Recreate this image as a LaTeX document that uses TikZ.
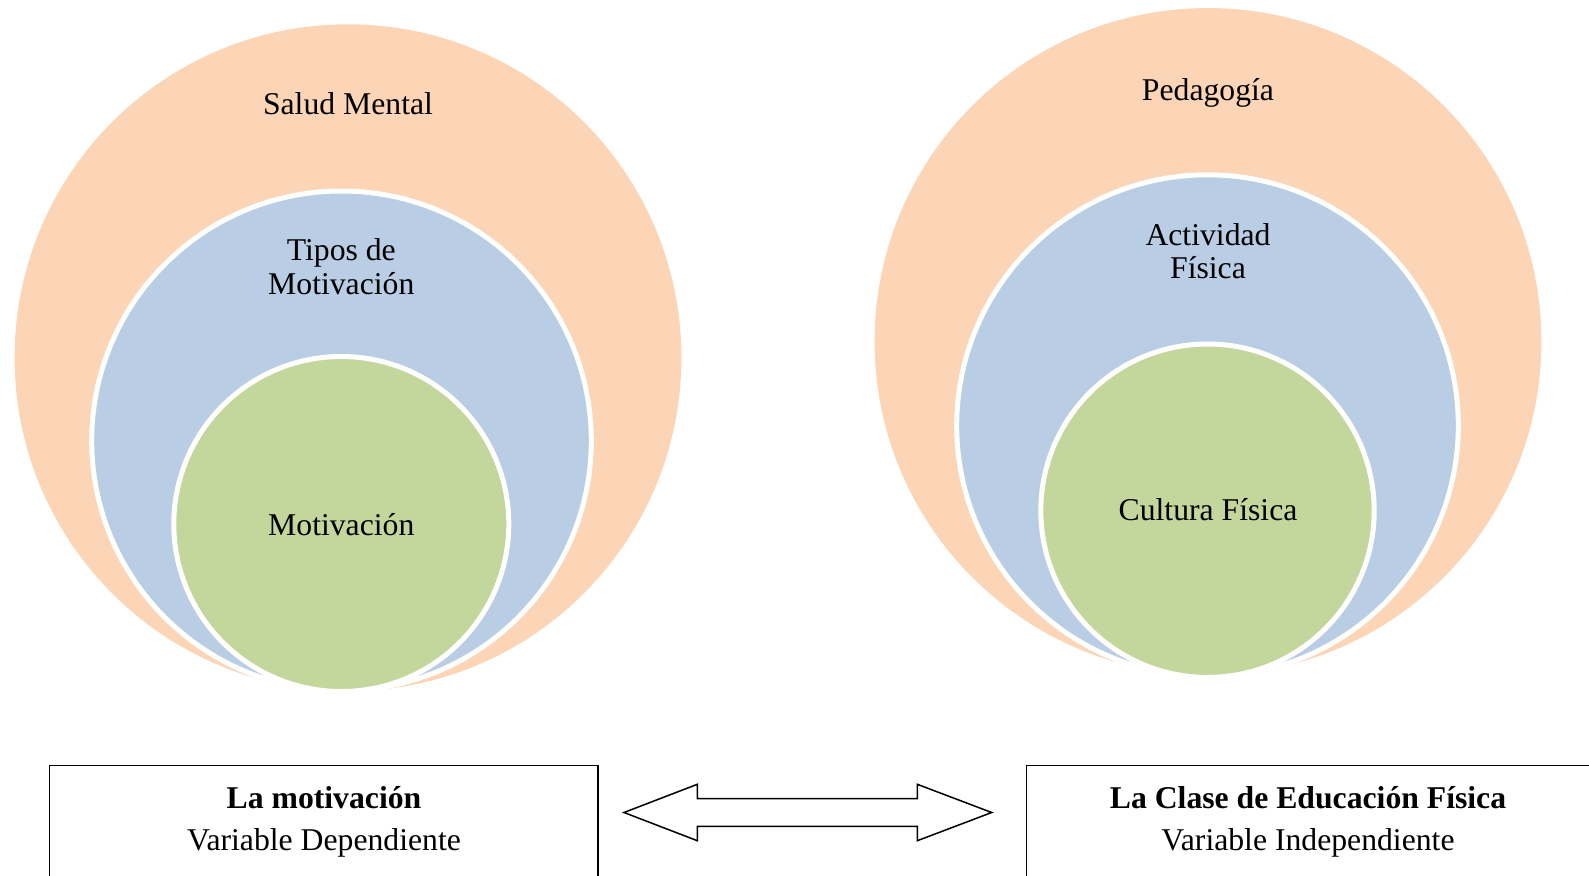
\documentclass[tikz,border=0pt]{standalone}
\usepackage{fontspec}
\setmainfont{Liberation Serif}
\definecolor{orangeF}{RGB}{251,213,181}
\definecolor{blueF}{RGB}{185,205,229}
\definecolor{greenF}{RGB}{195,214,155}
\begin{document}
\begin{tikzpicture}[x=1pt,y=-1pt,
  lbl/.style={font=\fontsize{31.7}{33.8}\selectfont, inner sep=0pt, anchor=base, align=center},
  boxlbl/.style={font=\fontsize{31.7}{41.7}\selectfont, inner sep=0pt, anchor=base, align=center},
  disc/.style={circle, inner sep=0pt, outer sep=0pt},
  ring/.style={disc, draw=white, line width=5pt},
  varbox/.style={draw=black, line width=1.5pt, anchor=north west, inner sep=0pt, outer sep=0pt},
  arrowshape/.style={draw=black, line width=1.5pt, fill=white, line join=miter}]
\useasboundingbox (0,0) rectangle (1589,875);
\clip (0,0) rectangle (1589,875);
% left circles
\node[disc, fill=orangeF, minimum size=666.8pt] (saludC) at (348,357.7) {};
\node[ring, fill=blueF, minimum size=499.6pt] (tiposC) at (341.5,440.8) {};
\node[ring, fill=greenF, minimum size=335pt] (motivC) at (341.3,524) {};
% right circles
\node[disc, fill=orangeF, minimum size=666.8pt] (pedaC) at (1208,341.5) {};
\node[ring, fill=blueF, minimum size=501.6pt] (activC) at (1207.5,425.6) {};
\node[ring, fill=greenF, minimum size=333.4pt] (cultC) at (1207.5,510.7) {};
% labels (multi-line: base anchor is on the last line)
\node[lbl] (saludT) at (348,114.3) {Salud Mental};
\node[lbl] (tiposT) at (341.3,294) {Tipos de\\Motivación};
\node[lbl] (motivT) at (341.3,535) {Motivación};
\node[lbl] (pedaT) at (1208,100) {Pedagogía};
\node[lbl] (activT) at (1208,278.8) {Actividad\\Física};
\node[lbl] (cultT) at (1208,520) {Cultura Física};
% boxes
\node[varbox, minimum width=548.3pt, minimum height=140pt] (boxL) at (49.7,765.7) {};
\node[varbox, minimum width=580pt, minimum height=140pt] (boxR) at (1026.6,765.7) {};
\node[boxlbl] (boxLT) at (324,850) {\textbf{La motivación}\\Variable Dependiente};
\node[boxlbl] (boxRT) at (1308,850) {\textbf{La Clase de Educación Física}\\Variable Independiente};
% double arrow
\coordinate (tipL) at (624,812.5);
\coordinate (tipR) at (991.7,812.5);
\draw[arrowshape] (tipL) -- (697.3,784.3) -- (697.3,798.7) -- (917.3,798.7) -- (917.3,784.3)
  -- (tipR) -- (917.3,840.7) -- (917.3,826.3) -- (697.3,826.3) -- (697.3,840.7) -- cycle;
\end{tikzpicture}
\end{document}
